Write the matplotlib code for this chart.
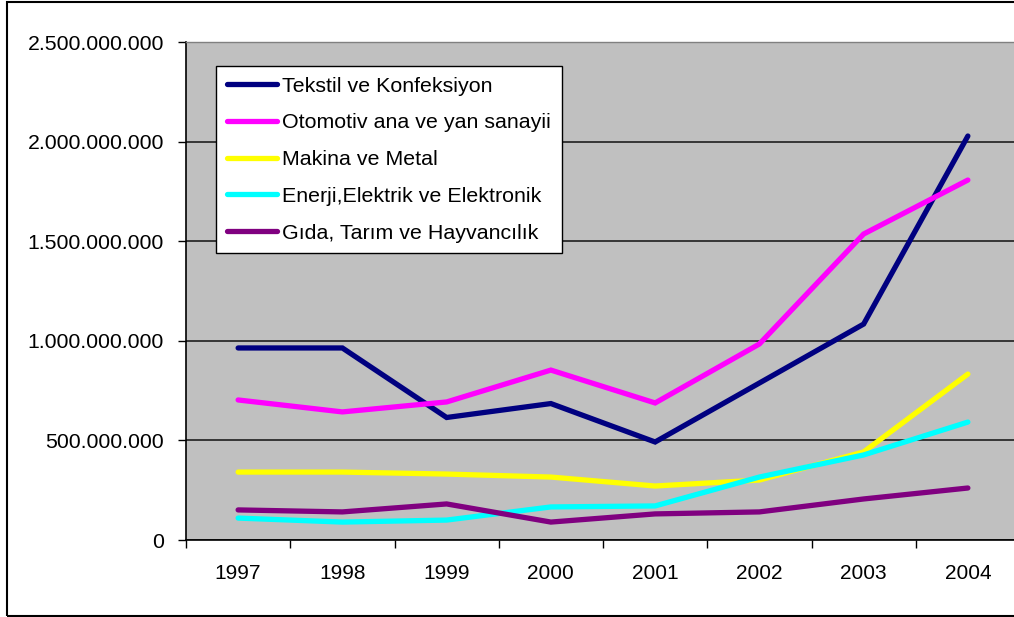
import numpy as np
import matplotlib.pyplot as plt
from matplotlib.patches import Rectangle
from matplotlib.ticker import FuncFormatter, FixedLocator

plt.rcParams['font.family'] = ['Liberation Sans', 'DejaVu Sans']

# =============================================
# DATA
# =============================================
years = ['1997', '1998', '1999', '2000', '2001', '2002', '2003', '2004']

tekstil   = [964e6, 964e6, 615e6, 685e6, 492e6, 788e6, 1084e6, 2028e6]
otomotiv  = [703e6, 643e6, 693e6, 853e6, 688e6, 984e6, 1536e6, 1807e6]
makina    = [341e6, 341e6, 331e6, 316e6, 271e6, 301e6, 442e6, 833e6]
enerji    = [110e6, 90e6, 100e6, 166e6, 171e6, 316e6, 427e6, 592e6]
gida      = [151e6, 141e6, 181e6, 90e6, 131e6, 141e6, 206e6, 261e6]

series_names = ['Tekstil ve Konfeksiyon', 'Otomotiv ana ve yan sanayii',
                'Makina ve Metal', 'Enerji,Elektrik ve Elektronik',
                'Gıda, Tarım ve Hayvancılık']
series_colors = ['#000080', '#FF00FF', '#FFFF00', '#00FFFF', '#800080']

# =============================================
# FIGURE
# =============================================
W, H = 1014, 617
fig = plt.figure(figsize=(W / 100, H / 100), dpi=100)
fig.patch.set_facecolor('white')

# outer chart border (right side is cut off in the original)
fig.patches.append(Rectangle((7 / W, 1.0 / H), 1.2, (615.5 - 1.0) / H,
                             transform=fig.transFigure, fill=False,
                             edgecolor='black', linewidth=1.5))

left, right, top, bottom = 186, 1020, 42, 540
ax = fig.add_axes([left / W, (H - bottom) / H, (right - left) / W, (bottom - top) / H])
ax.set_facecolor('#C0C0C0')

x = np.arange(len(years))
for vals, name, col in zip([tekstil, otomotiv, makina, enerji, gida],
                           series_names, series_colors):
    ax.plot(x, vals, color=col, linewidth=3.8, label=name,
            solid_capstyle='round', solid_joinstyle='miter')

ax.set_xlim(-0.5, len(years) - 0.5)
ax.set_ylim(0, 2.5e9)
ax.set_yticks(np.arange(0, 2.5e9 + 1, 5e8))
ax.yaxis.set_major_formatter(FuncFormatter(lambda v, p: f"{v:,.0f}".replace(',', '.')))
ax.grid(axis='y', color='#101010', linewidth=1.1)
ax.set_axisbelow(True)

# categories labelled in the middle, tick marks between them
ax.set_xticks(x)
ax.set_xticklabels(years)
ax.xaxis.set_minor_locator(FixedLocator(np.arange(-0.5, len(years), 1.0)))
ax.tick_params(axis='x', which='major', length=0, pad=17, labelsize=15)
ax.tick_params(axis='x', which='minor', length=6, width=1, color='black', direction='out')
ax.tick_params(axis='y', length=6, width=1, color='black', pad=10, labelsize=15.3)

for s in ['left', 'bottom']:
    ax.spines[s].set_color('black')
    ax.spines[s].set_linewidth(1.2)
for s in ['top', 'right']:
    ax.spines[s].set_color('#808080')
    ax.spines[s].set_linewidth(1.0)

leg = ax.legend(loc='upper left',
                bbox_to_anchor=((216 - left) / (right - left), (bottom - 66) / (bottom - top)),
                borderaxespad=0, fontsize=15.4, frameon=True, fancybox=False,
                edgecolor='black', framealpha=1, handlelength=2.35,
                handletextpad=0.25, labelspacing=0.83, borderpad=0.5)
leg.get_frame().set_linewidth(1.0)

plt.savefig('out.png', dpi=100)
